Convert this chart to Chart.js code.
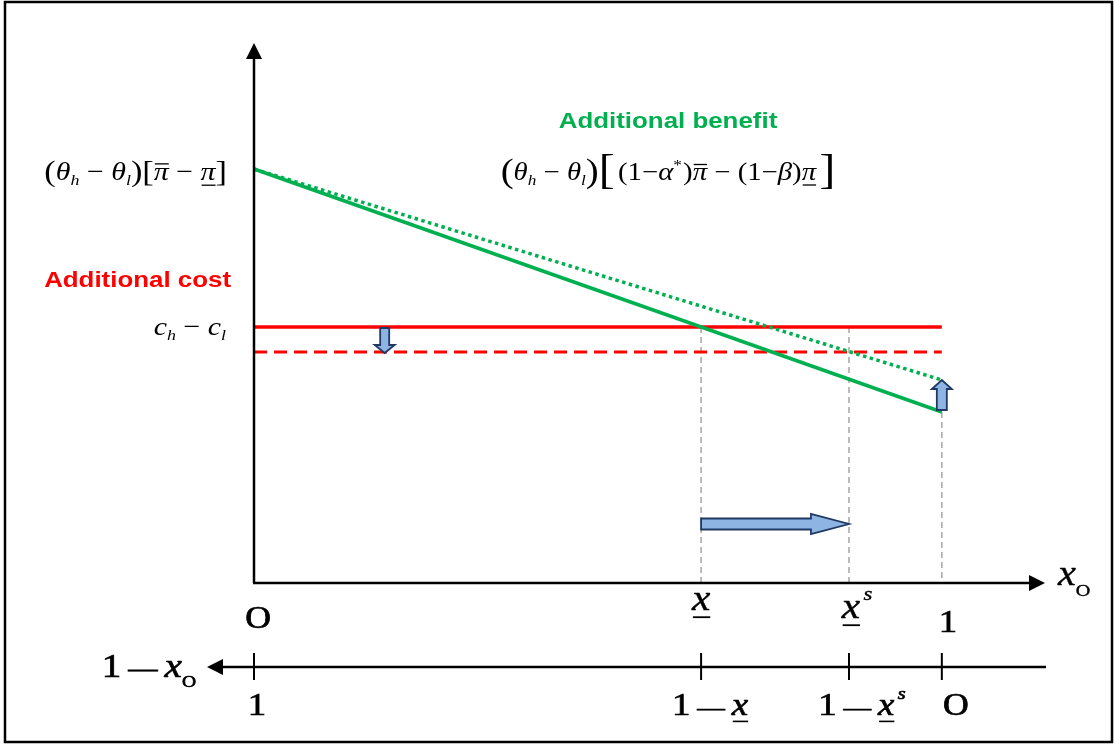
<!DOCTYPE html>
<html>
<head>
<meta charset="utf-8">
<script src="https://cdn.jsdelivr.net/npm/chart.js@4/dist/chart.umd.min.js"></script>
<style>
  body { margin: 0; background: #fff; }
</style>
</head>
<body>
<canvas id="diagram" width="1115" height="745"></canvas>
<script>
"use strict";

// x0 runs from 0 to 1, both lines are straight so two ends are enough
const xEnds = [0, 1];
const benefit = [4.14, 1.71];      // additional benefit, solid
const benefitNew = [4.14, 2.03];   // after the change, dotted
const cost = [2.56, 2.56];         // c_h - c_l
const costNew = [2.31, 2.31];      // lowered cost, dashed
const cutoffs = [0.65, 0.865];     // x (underlined) and x^s
const topTicks = [0, 0.65, 0.865, 1];
const bottomTicks = [1, 0.35, 0.135, 0];  // values of 1 - x0

const GREEN = "#00b050";
const RED = "#ff0000";
const GUIDE = "#a6a6a6";
const SX = 1.15;   // text is drawn a little wide
const SERIF = '"Liberation Serif", "Times New Roman", serif';
const SANS = '"Liberation Sans", Arial, sans-serif';

function pts(xs, ys) {
    return xs.map((x, i) => ({x: x, y: ys[i]}));
}

function guide(x, yTop) {
    return {data: [{x: x, y: yTop}, {x: x, y: 0}], borderColor: GUIDE, borderWidth: 1.5,
            borderDash: [6, 4], order: 10};
}

// runs of math text: i = italic, s = size factor, dy = shift in em, g = gap after
function drawRuns(ctx, runs, x, y, size, align, heavy) {
    const font = r => (r.i ? "italic " : "") + (size * (r.s || 1)).toFixed(1) + "px " + SERIF;
    const w = runs.map(r => { ctx.font = font(r); return (ctx.measureText(r.t).width + (r.g || 0)) * SX; });
    const total = w.reduce((a, b) => a + b, 0);
    let cx = align === "center" ? x - total / 2 : align === "right" ? x - total : x;
    ctx.textAlign = "left";
    ctx.textBaseline = "alphabetic";
    ctx.fillStyle = "#000";
    ctx.strokeStyle = "#000";
    runs.forEach((r, k) => {
        ctx.font = font(r);
        const gw = ctx.measureText(r.t).width * SX;
        const ty = y + (r.dy || 0) * size;
        ctx.save();
        ctx.translate(cx, ty);
        ctx.scale(SX, 1);
        ctx.fillText(r.t, 0, 0);
        if (heavy) {
            ctx.lineWidth = heavy;
            ctx.strokeText(r.t, 0, 0);
        }
        ctx.restore();
        if (r.over || r.under) {
            const ly = r.over ? ty - 0.62 * size : ty + 0.2 * size;
            ctx.lineWidth = Math.max(1.3, size * 0.05);
            ctx.setLineDash([]);
            ctx.beginPath();
            ctx.moveTo(cx + 1, ly);
            ctx.lineTo(cx + gw, ly);
            ctx.stroke();
        }
        cx += w[k];
    });
}

function drawLabel(ctx, text, x, y, size, color, align) {
    ctx.font = "bold " + size + "px " + SANS;
    const w = ctx.measureText(text).width * SX;
    const left = align === "center" ? x - w / 2 : align === "right" ? x - w : x;
    ctx.save();
    ctx.fillStyle = color;
    ctx.textAlign = "left";
    ctx.textBaseline = "alphabetic";
    ctx.translate(left, y);
    ctx.scale(SX, 1);
    ctx.fillText(text, 0, 0);
    ctx.restore();
}

// block arrow from (x0,y0) to tip (x1,y1)
function blockArrow(ctx, x0, y0, x1, y1, shaft, head, headLen) {
    const len = Math.hypot(x1 - x0, y1 - y0);
    const a = Math.atan2(y1 - y0, x1 - x0);
    ctx.save();
    ctx.translate(x0, y0);
    ctx.rotate(a);
    ctx.beginPath();
    ctx.moveTo(0, -shaft / 2);
    ctx.lineTo(len - headLen, -shaft / 2);
    ctx.lineTo(len - headLen, -head / 2);
    ctx.lineTo(len, 0);
    ctx.lineTo(len - headLen, head / 2);
    ctx.lineTo(len - headLen, shaft / 2);
    ctx.lineTo(0, shaft / 2);
    ctx.closePath();
    ctx.fillStyle = "#8eb4e3";
    ctx.fill();
    ctx.setLineDash([]);
    ctx.lineWidth = 1.8;
    ctx.strokeStyle = "#1f3864";
    ctx.stroke();
    ctx.restore();
}

function triangle(ctx, tx, ty, dir, len, half) {
    ctx.beginPath();
    if (dir === "up") {
        ctx.moveTo(tx, ty); ctx.lineTo(tx - half, ty + len); ctx.lineTo(tx + half, ty + len);
    } else if (dir === "right") {
        ctx.moveTo(tx, ty); ctx.lineTo(tx - len, ty - half); ctx.lineTo(tx - len, ty + half);
    } else {
        ctx.moveTo(tx, ty); ctx.lineTo(tx + len, ty - half); ctx.lineTo(tx + len, ty + half);
    }
    ctx.closePath();
    ctx.fill();
}

const sub = t => ({t: t, i: 1, s: 0.6, dy: 0.2});

const backdrop = {
    id: "backdrop",
    beforeDraw(chart) {
        const ctx = chart.ctx;
        ctx.save();
        ctx.fillStyle = "#fff";
        ctx.fillRect(0, 0, chart.width, chart.height);
        ctx.strokeStyle = "#000";
        ctx.lineWidth = 2.5;
        ctx.strokeRect(5, 2, 1107, 740);
        ctx.restore();
    }
};

const annotations = {
    id: "annotations",
    afterDatasetsDraw(chart) {
        const ctx = chart.ctx;
        const xs = chart.scales.x, ys = chart.scales.y;
        const X = v => xs.getPixelForValue(v);
        const Y = v => ys.getPixelForValue(v);
        const x0 = X(0), y0 = Y(0);
        ctx.save();
        ctx.setLineDash([]);
        ctx.strokeStyle = "#000";
        ctx.fillStyle = "#000";

        // main axes
        ctx.lineWidth = 2.5;
        ctx.beginPath();
        ctx.moveTo(x0, y0);
        ctx.lineTo(x0, Y(ys.max) + 14);
        ctx.moveTo(x0 - 1, y0);
        ctx.lineTo(X(xs.max) - 14, y0);
        ctx.stroke();
        triangle(ctx, x0, Y(ys.max), "up", 16, 8);
        triangle(ctx, X(xs.max), y0, "right", 16, 8);

        // second axis for 1 - x0, running to the left
        const yb = y0 + 84;
        ctx.beginPath();
        ctx.moveTo(x0 - 34, yb);
        ctx.lineTo(X(xs.max) + 1, yb);
        ctx.stroke();
        triangle(ctx, x0 - 47, yb, "left", 16, 8);
        ctx.lineWidth = 2;
        bottomTicks.forEach(v => {
            const px = X(1 - v);
            ctx.beginPath();
            ctx.moveTo(px, yb - 14);
            ctx.lineTo(px, yb + 13);
            ctx.stroke();
        });

        // shift arrows
        blockArrow(ctx, X(0.19), Y(cost[0]) + 1, X(0.19), Y(costNew[0]) + 1, 9, 20, 8);
        blockArrow(ctx, X(1), Y(benefit[1]) - 2, X(1), Y(benefitNew[1]), 10, 20, 9);
        blockArrow(ctx, X(cutoffs[0]), Y(0.59), X(cutoffs[1]), Y(0.59), 11, 20, 38);

        // tick labels on the x0 axis
        const xu = {t: "x", i: 1, under: 1};
        const xus = {t: "x", i: 1, under: 1, g: 3};
        const sup = {t: "s", i: 1, s: 0.55, dy: -0.5};
        drawRuns(ctx, [{t: "O"}], X(topTicks[0]) + 4, y0 + 45, 31, "center", 0.7);
        drawRuns(ctx, [xu], X(topTicks[1]), y0 + 27, 36, "center", 0.4);
        drawRuns(ctx, [xus, sup], X(topTicks[2]) + 8, y0 + 35, 36, "center", 0.4);
        drawRuns(ctx, [{t: "1"}], X(topTicks[3]) + 6, y0 + 49, 32, "center", 0.7);
        drawRuns(ctx, [{t: "x", i: 1}, {t: "O", s: 0.5, dy: 0.3}], X(xs.max) + 13, y0 + 2, 35, "left", 0.4);

        // tick labels on the 1 - x0 axis
        const dash = {t: "\u2014", s: 0.75, g: 6};
        const one = {t: "1", g: 6};
        drawRuns(ctx, [{t: "1"}], X(1 - bottomTicks[0]) + 3, yb + 48, 32, "center", 0.7);
        drawRuns(ctx, [one, dash, xu], X(1 - bottomTicks[1]) + 9, yb + 48, 32, "center", 0.7);
        drawRuns(ctx, [one, dash, xus, sup], X(1 - bottomTicks[2]) + 13, yb + 48, 32, "center", 0.7);
        drawRuns(ctx, [{t: "O"}], X(1 - bottomTicks[3]) + 14, yb + 48, 31, "center", 0.7);
        drawRuns(ctx, [one, dash, {t: "x", i: 1}, {t: "O", s: 0.5, dy: 0.3}], 196, yb + 10, 34, "right", 0.7);

        // value labels on the vertical axis
        drawRuns(ctx, [{t: "(", s: 1.15, dy: 0.03}, {t: "\u03b8", i: 1}, sub("h"), {t: " \u2212 "}, {t: "\u03b8", i: 1}, sub("l"),
                       {t: ")", s: 1.15, dy: 0.03}, {t: "[", s: 1.15, dy: 0.03}, {t: "\u03c0", i: 1, over: 1}, {t: " \u2212 "},
                       {t: "\u03c0", i: 1, under: 1}, {t: "]", s: 1.15, dy: 0.03}], x0 - 27, Y(benefit[0]) + 11, 26, "right");
        drawRuns(ctx, [{t: "c", i: 1}, sub("h"), {t: " \u2212 "}, {t: "c", i: 1}, sub("l")],
                 x0 - 28, Y(cost[0]) + 8, 26, "right");

        // curve titles
        drawLabel(ctx, "Additional benefit", 668, 128, 22.5, GREEN, "center");
        drawLabel(ctx, "Additional cost", 231, 287, 22.5, RED, "right");
        drawRuns(ctx, [{t: "(", s: 1.35, dy: 0.08}, {t: "\u03b8", i: 1}, sub("h"), {t: " \u2212 "}, {t: "\u03b8", i: 1}, sub("l"),
                       {t: ")", s: 1.35, dy: 0.08}, {t: "[", s: 1.65, dy: 0.12, g: 3}, {t: "(1\u2212"}, {t: "\u03b1", i: 1},
                       {t: "*", s: 0.6, dy: -0.42, g: 1}, {t: ")"}, {t: "\u03c0", i: 1, over: 1}, {t: " \u2212 (1\u2212"},
                       {t: "\u03b2", i: 1}, {t: ")"}, {t: "\u03c0", i: 1, under: 1, g: 3}, {t: "]", s: 1.65, dy: 0.12}],
                 668, 180, 25, "center");
        ctx.restore();
    }
};

new Chart(document.getElementById("diagram"), {
    type: "line",
    data: {
        datasets: [
            {data: pts(xEnds, benefit), borderColor: GREEN, borderWidth: 3.5, order: 1},
            {data: pts(xEnds, benefitNew), borderColor: GREEN, borderWidth: 3.5, borderDash: [3.5, 3.5], order: 2},
            {data: pts(xEnds, cost), borderColor: RED, borderWidth: 3.5, order: 3},
            {data: pts(xEnds, costNew), borderColor: RED, borderWidth: 3, borderDash: [13, 7], order: 4},
            guide(cutoffs[0], cost[0]),
            guide(cutoffs[1], cost[0]),
            guide(xEnds[1], benefit[1])
        ]
    },
    options: {
        responsive: false,
        animation: false,
        layout: {padding: {left: 254, right: 70, top: 43, bottom: 162}},
        elements: {point: {radius: 0}, line: {tension: 0, borderCapStyle: "butt"}},
        datasets: {line: {clip: false}},
        scales: {
            x: {type: "linear", min: 0, max: 1.15, display: false},
            y: {type: "linear", min: 0, max: 5.4, display: false}
        },
        plugins: {legend: {display: false}, tooltip: {enabled: false}}
    },
    plugins: [backdrop, annotations]
});
</script>
</body>
</html>
